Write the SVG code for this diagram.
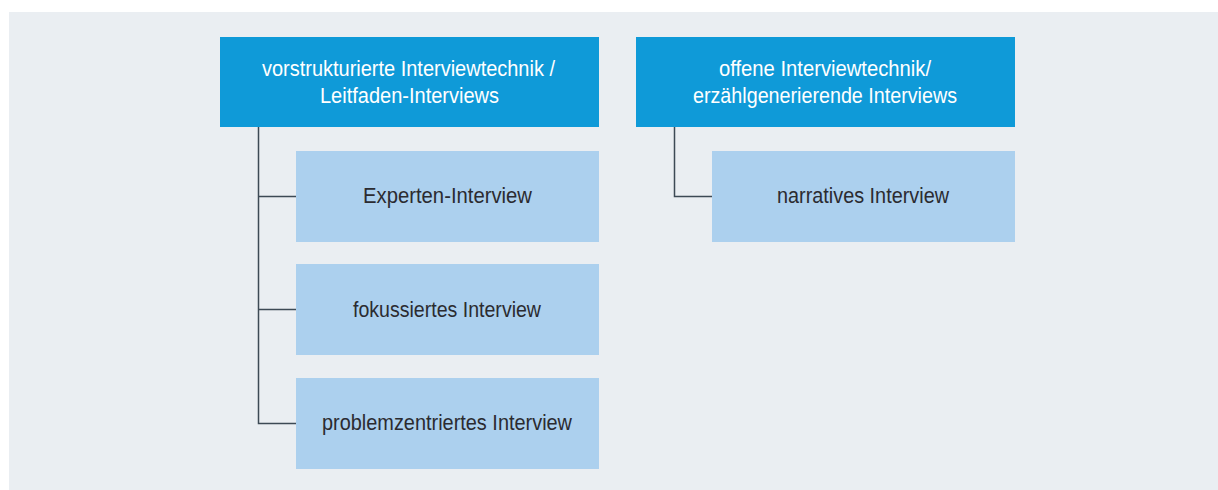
<svg xmlns="http://www.w3.org/2000/svg" width="1218" height="490" viewBox="0 0 1218 490">
<style>
.bg{fill:#eaeef2}
.head{fill:#0f9ad8}
.child{fill:#acd0ee}
.t{font-family:"Liberation Sans",Arial,sans-serif;font-size:22px;text-anchor:middle}
.tw{fill:#ffffff}
.td{fill:#2b2b30}
.conn{fill:none;stroke:#3d4a55;stroke-width:1.5}
</style>
<rect class="bg" x="9" y="12" width="1209" height="478"/>
<g id="connectors">
<path class="conn" d="M258.5 127 V423.5 H296 M258.5 196.5 H296 M258.5 309.5 H296"/>
<path class="conn" d="M674.5 127 V196.5 H712"/>
</g>
<g id="node-vorstrukturiert">
<rect class="head" x="220" y="37" width="379" height="90"/>
<text class="t tw" x="408.5" y="76" textLength="293" lengthAdjust="spacingAndGlyphs">vorstrukturierte Interviewtechnik /</text>
<text class="t tw" x="409.5" y="103" textLength="179" lengthAdjust="spacingAndGlyphs">Leitfaden-Interviews</text>
</g>
<g id="node-offen">
<rect class="head" x="636" y="37" width="379" height="90"/>
<text class="t tw" x="825" y="76" textLength="212" lengthAdjust="spacingAndGlyphs">offene Interviewtechnik/</text>
<text class="t tw" x="825" y="103" textLength="264" lengthAdjust="spacingAndGlyphs">erzählgenerierende Interviews</text>
</g>
<g id="node-experten">
<rect class="child" x="296" y="151" width="303" height="91"/>
<text class="t td" x="447.5" y="203" textLength="169" lengthAdjust="spacingAndGlyphs">Experten-Interview</text>
</g>
<g id="node-fokussiert">
<rect class="child" x="296" y="264" width="303" height="91"/>
<text class="t td" x="447" y="317" textLength="188" lengthAdjust="spacingAndGlyphs">fokussiertes Interview</text>
</g>
<g id="node-problemzentriert">
<rect class="child" x="296" y="378" width="303" height="91"/>
<text class="t td" x="447" y="430" textLength="250" lengthAdjust="spacingAndGlyphs">problemzentriertes Interview</text>
</g>
<g id="node-narrativ">
<rect class="child" x="712" y="151" width="303" height="91"/>
<text class="t td" x="863" y="203" textLength="172" lengthAdjust="spacingAndGlyphs">narratives Interview</text>
</g>
</svg>
